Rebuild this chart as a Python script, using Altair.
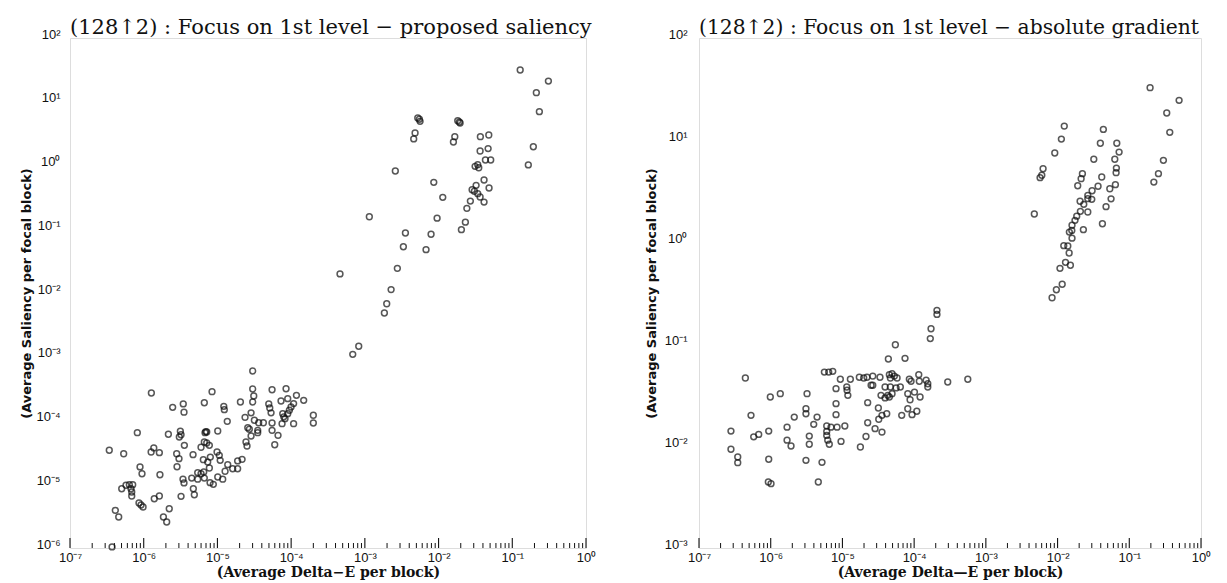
import altair as alt
import pandas as pd

# ---------------- data ----------------
left_delta_e = [
    3.41e-7, 5.35e-7, 4.12e-7, 4.58e-7, 5.03e-7, 5.75e-7, 6.38e-7, 7.09e-7, 6.72e-7, 6.88e-7,
    6.88e-7, 8.19e-7, 8.91e-7, 9.48e-7, 8.63e-7, 9.19e-7, 9.8e-7, 1.27e-6, 1.26e-6, 1.37e-6,
    1.63e-6, 1.66e-6, 1.39e-6, 1.63e-6, 1.85e-6, 2.05e-6, 2.22e-6, 2.16e-6, 2.47e-6, 3.44e-6,
    3.52e-6, 3.14e-6, 3.21e-6, 3.04e-6, 3.56e-6, 2.8e-6, 3.01e-6, 2.83e-6, 3.41e-6, 3.52e-6,
    3.21e-6, 4.71e-6, 4.86e-6, 4.48e-6, 5.4e-6, 5.4e-6, 4.67e-6, 6.64e-6, 8.45e-6, 6.79e-6,
    7.16e-6, 6.95e-6, 6.64e-6, 7.16e-6, 7.77e-6, 5.99e-6, 6.44e-6, 7.38e-6, 8.01e-6, 7.77e-6,
    6.52e-6, 6.64e-6, 5.99e-6, 7.94e-6, 8.8e-6, 1.01e-5, 1.18e-5, 9.88e-6, 1.06e-5, 1.09e-5,
    1.01e-5, 1.22e-5, 1.24e-5, 1.36e-5, 1.27e-5, 1.38e-5, 1.61e-5, 1.88e-5, 1.88e-5, 2.16e-5,
    2.05e-5, 2.37e-5, 2.44e-5, 2.52e-5, 2.58e-5, 2.71e-5, 2.86e-5, 2.86e-5, 3.01e-5, 3.01e-5,
    3.11e-5, 3.01e-5, 3.17e-5, 3.63e-5, 4.2e-5, 3.52e-5, 3.52e-5, 4.97e-5, 5.13e-5, 5.34e-5,
    5.51e-5, 5.51e-5, 5.51e-5, 6.64e-5, 5.99e-5, 7.29e-5, 8.53e-5, 8.99e-5, 1.08e-4, 1.18e-4,
    1.48e-4, 7.69e-5, 7.94e-5, 8.26e-5, 8.99e-5, 9.46e-5, 9.97e-5, 7.53e-5, 1.08e-4, 2.0e-4,
    2.0e-4, 6.85e-4, 8.26e-4, 3.72e-7,
    0.128, 0.309, 0.212, 0.233, 0.193, 0.165, 5.22e-3, 5.49e-3, 5.61e-3, 4.8e-3,
    4.6e-3, 1.82e-2, 1.91e-2, 1.96e-2, 1.66e-2, 1.59e-2, 3.69e-2, 4.8e-2, 3.66e-2, 4.7e-2,
    3.13e-2, 3.4e-2, 3.51e-2, 4.32e-2, 5.1e-2, 2.59e-3, 8.61e-3, 1.14e-2, 4.14e-2, 4.84e-2,
    3.23e-2, 2.85e-2, 3.06e-2, 3.4e-2, 3.66e-2, 4.14e-2, 2.7e-2, 2.42e-2, 2.31e-2, 2.04e-2,
    1.15e-3, 9.55e-3, 3.55e-3, 7.91e-3, 3.33e-3, 6.76e-3, 2.76e-3, 4.6e-4, 2.27e-3, 1.98e-3,
    1.84e-3,
]
left_saliency = [
    3.41e-5, 3.01e-5, 3.9e-6, 3.06e-6, 8.51e-6, 9.64e-6, 9.84e-6, 9.84e-6, 8.51e-6, 7.55e-6,
    6.55e-6, 6.44e-5, 1.87e-5, 1.46e-5, 5.08e-6, 4.73e-6, 4.4e-6, 2.7e-4, 3.21e-5, 3.71e-5,
    3.13e-5, 1.41e-5, 5.93e-6, 6.55e-6, 3.06e-6, 2.56e-6, 4.13e-6, 6.08e-5, 1.61e-4, 1.82e-4,
    1.35e-4, 6.78e-5, 5.98e-5, 5.51e-5, 4.08e-5, 3.01e-5, 2.52e-5, 1.88e-5, 1.2e-5, 1.05e-5,
    6.47e-6, 8.51e-6, 6.85e-6, 1.25e-5, 1.2e-5, 1.52e-5, 2.91e-5, 1.9e-4, 2.83e-4, 6.44e-5,
    6.61e-5, 6.7e-5, 4.6e-5, 4.44e-5, 4.08e-5, 3.8e-5, 2.43e-5, 2.23e-5, 2.67e-5, 1.8e-5,
    1.56e-5, 1.25e-5, 1.46e-5, 1.06e-5, 9.98e-6, 1.3e-5, 1.2e-5, 3.21e-5, 2.84e-5, 2.37e-5,
    6.84e-5, 1.67e-4, 1.48e-4, 9.7e-5, 1.6e-5, 2.03e-5, 1.75e-5, 1.75e-5, 2.32e-5, 2.46e-5,
    1.95e-4, 1.12e-4, 4.6e-5, 3.98e-5, 7.71e-5, 7.28e-5, 5.71e-5, 1.32e-4, 5.97e-4, 3.12e-4,
    2.42e-4, 1.95e-4, 1.01e-4, 9.23e-5, 9.23e-5, 7.02e-5, 6.44e-5, 1.82e-4, 1.57e-4, 1.32e-4,
    3.04e-4, 9.14e-5, 7.02e-5, 5.86e-5, 4.17e-5, 2.02e-4, 3.15e-4, 2.2e-4, 1.84e-4, 2.48e-4,
    2.07e-4, 1.28e-4, 1.14e-4, 1.07e-4, 1.28e-4, 1.45e-4, 1.63e-4, 8.91e-5, 8.91e-5, 1.21e-4,
    9.14e-5, 1.09e-3, 1.46e-3, 1.04e-6,
    31.5, 21.1, 13.9, 6.98, 1.97, 1.02, 5.56, 5.31, 4.93, 3.24,
    2.61, 5.05, 4.81, 4.64, 2.83, 2.34, 2.83, 3.01, 1.69, 1.84,
    0.971, 1.03, 0.923, 1.22, 1.22, 0.82, 0.545, 0.317, 0.593, 0.444,
    0.489, 0.417, 0.394, 0.361, 0.321, 0.267, 0.277, 0.213, 0.129, 0.0984,
    0.157, 0.149, 0.0873, 0.0834, 0.0532, 0.0478, 0.0244, 0.0199, 0.0113, 6.79e-3,
    4.85e-3,
]

right_delta_e = [
    0.195, 0.495, 0.333, 0.367, 0.299, 0.255, 0.22, 1.24e-2, 1.13e-2, 9.14e-3,
    6.28e-3, 6.03e-3, 5.7e-3, 4.74e-3, 4.35e-2, 3.95e-2, 6.7e-2, 7.21e-2, 3.2e-2, 6.28e-2,
    6.61e-2, 6.55e-2, 2.22e-2, 2.13e-2, 4.13e-2, 1.91e-2, 3.67e-2, 5.35e-2, 6.4e-2, 3.03e-2,
    2.64e-2, 3.0e-2, 2.32e-2, 2.06e-2, 2.64e-2, 5.57e-2, 4.74e-2, 2.64e-2, 2.08e-2, 1.85e-2,
    1.75e-2, 1.59e-2, 1.58e-2, 1.46e-2, 1.59e-2, 4.22e-2, 2.29e-2, 1.22e-2, 1.39e-2, 1.45e-2,
    1.29e-2, 1.51e-2, 1.08e-2, 1.16e-2, 9.62e-3, 8.38e-3,
    2.08e-4, 2.08e-4, 1.72e-4, 1.68e-4, 5.47e-5, 4.37e-5, 7.46e-5, 4.43e-7, 5.6e-6, 6.44e-6,
    7.33e-6, 9.35e-6, 1.29e-5, 1.72e-5, 1.98e-5, 2.2e-5, 2.65e-5, 3.34e-5, 2.51e-5, 2.65e-5,
    8.14e-6, 1.15e-5, 1.16e-5, 1.19e-5, 9.87e-7, 1.36e-6, 3.21e-6, 8.14e-6, 2.25e-5, 4.51e-5,
    4.92e-5, 5.3e-5, 5.78e-5, 4.66e-5, 3.93e-5, 4.66e-5, 5.6e-5, 6.42e-5, 3.45e-5, 3.93e-5,
    4.51e-5, 4.92e-5, 4.29e-5, 8.57e-5, 9.06e-5, 1.16e-4, 1.18e-4, 1.47e-4, 1.55e-4, 1.55e-4,
    8.15e-5, 8.77e-5, 1.01e-4, 1.21e-4, 2.94e-4, 5.6e-4, 3.17e-5, 3.56e-5, 4.15e-5, 3.21e-5,
    6.71e-5, 8.15e-5, 9.35e-5, 1.09e-4, 2.25e-5, 2.85e-5, 3.56e-5, 2.13e-5, 1.78e-5, 5.31e-7,
    2.79e-7, 2.79e-7, 3.47e-7, 3.47e-7, 5.79e-7, 6.8e-7, 9.38e-7, 9.38e-7, 9.26e-7, 1.01e-6,
    1.69e-6, 1.69e-6, 1.92e-6, 2.13e-6, 3.1e-6, 3.1e-6, 3.45e-6, 3.45e-6, 3.1e-6, 4.43e-6,
    3.98e-6, 5.19e-6, 4.61e-6, 6.04e-6, 6.93e-6, 8.41e-6, 6.04e-6, 6.04e-6, 6.24e-6, 6.56e-6,
    8.14e-6, 9.56e-6, 1.08e-5,
]
right_saliency = [
    32.6, 24.5, 18.4, 11.9, 6.32, 4.68, 3.87, 13.7, 10.2, 7.46,
    5.23, 4.51, 4.27, 1.88, 12.7, 9.29, 9.29, 7.62, 6.47, 6.47,
    5.31, 4.78, 4.68, 4.18, 4.34, 3.56, 3.52, 3.33, 3.65, 3.18,
    2.87, 2.62, 2.34, 2.51, 2.66, 2.65, 2.22, 1.97, 2.0, 1.79,
    1.63, 1.46, 1.3, 1.25, 1.09, 1.51, 1.32, 0.92, 0.914, 0.78,
    0.632, 0.592, 0.552, 0.385, 0.34, 0.284,
    0.214, 0.195, 0.141, 0.113, 0.0984, 0.0713, 0.0724, 0.0464, 0.0531, 0.0531,
    0.054, 0.0451, 0.0451, 0.0472, 0.0464, 0.0472, 0.0485, 0.0472, 0.0394, 0.0394,
    0.0365, 0.0379, 0.0352, 0.0314, 0.0302, 0.0326, 0.0326, 0.026, 0.0266, 0.05,
    0.0512, 0.0485, 0.0464, 0.0464, 0.0379, 0.0379, 0.0371, 0.0379, 0.0314, 0.0296,
    0.0302, 0.0326, 0.0314, 0.0451, 0.0431, 0.05, 0.0431, 0.0441, 0.0408, 0.0379,
    0.0326, 0.0284, 0.0338, 0.0302, 0.0424, 0.0451, 0.0236, 0.02, 0.0207, 0.0183,
    0.02, 0.0232, 0.0203, 0.0219, 0.0169, 0.0148, 0.0137, 0.0124, 9.77e-3, 0.02,
    0.014, 9.29e-3, 7.8e-3, 6.86e-3, 0.0123, 0.013, 0.014, 7.41e-3, 4.44e-3, 4.27e-3,
    0.0153, 0.0114, 0.01, 0.0192, 0.0232, 0.0207, 0.0125, 0.0104, 7.24e-3, 0.0192,
    0.0163, 6.92e-3, 4.44e-3, 0.0157, 0.0153, 0.0153, 0.0139, 0.0127, 0.0114, 0.0104,
    0.0203, 0.0111, 0.0157,
]

titles = [
    "(128\u21912) : Focus on 1st level \u2212 proposed saliency",
    "(128\u21912) : Focus on 1st level \u2212 absolute gradient",
]
x_titles = ["(Average Delta\u2212E per block)", "(Average Delta\u2014E per block)"]
y_title = "(Average Saliency per focal block)"

x_decades = [1e-7, 1e-6, 1e-5, 1e-4, 1e-3, 1e-2, 1e-1, 1e0]
x_minor = [m * d for d in x_decades[:-1] for m in range(2, 10)]
left_y_decades = [1e-6, 1e-5, 1e-4, 1e-3, 1e-2, 1e-1, 1e0, 1e1, 1e2]
right_y_decades = [1e-3, 1e-2, 1e-1, 1e0, 1e1, 1e2]

SUP = "['\u2070','\u00b9','\u00b2','\u00b3','\u2074','\u2075','\u2076','\u2077','\u2078','\u2079']"
EXP = "round(log(datum.value)/LN10)"
LABEL_EXPR = f"'10' + ({EXP} < 0 ? '\u207b' : '') + {SUP}[abs({EXP})]"

H = 510
LABEL_FONT = "Liberation Sans"


def panel(xs, ys, title, title_size, xtitle, ydomain, yvals, width, lab_pad, title_pad):
    df = pd.DataFrame({"delta_e": xs, "saliency": ys})
    xscale = alt.Scale(type="log", domain=[1e-7, 1.0], nice=False)
    yscale = alt.Scale(type="log", domain=ydomain, nice=False)
    xaxis = alt.Axis(
        values=x_decades, labelExpr=LABEL_EXPR, title=xtitle, ticks=False,
        domain=False, grid=False, labelFlush=False, labelOverlap=False,
        labelPadding=3, labelFont=LABEL_FONT, labelFontSize=13, labelColor="#111",
        titleFont="DejaVu Serif", titleFontSize=14, titleFontWeight="bold",
        titleColor="#111", titlePadding=1)
    pts = alt.Chart(df).mark_point(
        shape="circle", filled=False, size=34, strokeWidth=1.5, color="#111"
    ).encode(
        x=alt.X("delta_e:Q", scale=xscale, axis=xaxis),
        y=alt.Y("saliency:Q", scale=yscale, axis=alt.Axis(
            values=yvals, labelExpr=LABEL_EXPR, title=y_title, ticks=False,
            domain=False, grid=False, labelFlush=False, labelOverlap=False,
            labelPadding=lab_pad, labelBaseline="alphabetic", labelFont=LABEL_FONT,
            labelFontSize=13, labelColor="#111", titleFont="DejaVu Sans",
            titleFontSize=13, titleFontWeight="bold", titleColor="#111",
            titlePadding=title_pad)),
    )
    major = alt.Chart(pd.DataFrame({"delta_e": x_decades})).mark_rule(
        color="#111", strokeWidth=1.1
    ).encode(
        x=alt.X("delta_e:Q", scale=xscale, axis=xaxis),
        y=alt.value(H), y2=alt.value(H - 10),
    )
    minor = alt.Chart(pd.DataFrame({"delta_e": x_minor})).mark_rule(
        color="#111", strokeWidth=1.0
    ).encode(
        x=alt.X("delta_e:Q", scale=xscale, axis=xaxis),
        y=alt.value(H), y2=alt.value(H - 5),
    )
    return alt.layer(pts, major, minor).properties(
        width=width, height=H,
        title=alt.TitleParams(title, anchor="start", frame="group", font="DejaVu Serif",
                              fontSize=title_size, fontWeight="normal", color="#111",
                              offset=-10),
    )


left = panel(left_delta_e, left_saliency, titles[0], 21, x_titles[0],
             [1e-6, 1e2], left_y_decades, 516, 10, 2)
right = panel(right_delta_e, right_saliency, titles[1], 20.3, x_titles[1],
              [1e-3, 1e2], right_y_decades, 502, 12, 6)

chart = alt.hconcat(left, right, spacing=47).properties(
    padding={"left": 12, "top": 8, "right": 0, "bottom": 0}
).configure_view(stroke="#111", strokeWidth=1.5).configure(background="white")

chart.save("out.html", embed_options={"renderer": "svg", "actions": False})
